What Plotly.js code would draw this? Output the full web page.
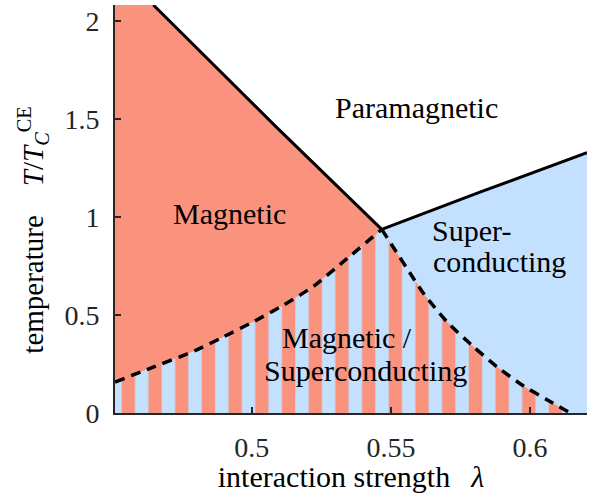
<!DOCTYPE html>
<html><head><meta charset="utf-8">
<script src="https://cdn.plot.ly/plotly-3.0.1.min.js"></script>
<style>html,body{margin:0;padding:0;background:#fff}#chart{width:593px;height:493px}</style>
</head><body><div id="chart"></div>
<script>
// Phase boundaries (interaction strength λ, temperature T/T_C^CE)
const paraMagX = [0.4646, 0.508, 0.5467];
const paraMagY = [2.082, 1.47, 0.937];
const paraScX = [0.5467, 0.582, 0.6205];
const paraScY = [0.937, 1.127, 1.328];
const magCoexX = [0.4508, 0.4634, 0.4796, 0.4886, 0.5006, 0.5113, 0.5222, 0.5329, 0.5467];
const magCoexY = [0.158, 0.228, 0.318, 0.380, 0.466, 0.550, 0.647, 0.772, 0.937];
const scCoexX = [0.5467, 0.5515, 0.5569, 0.5617, 0.5701, 0.5797, 0.5881, 0.5977, 0.6061, 0.6145];
const scCoexY = [0.937, 0.832, 0.713, 0.611, 0.466, 0.338, 0.236, 0.138, 0.068, 0.0];
const xRange = [0.4508, 0.6205];
const yRange = [0, 2.082];
const xTickVals = [0.5, 0.55, 0.6];
const xTickText = ['0.5', '0.55', '0.6'];
const yTickVals = [0, 0.5, 1, 1.5, 2];
const yTickText = ['0', '0.5', '1', '1.5', '2'];
const regionLabels = ['Paramagnetic', 'Magnetic', 'Super-', 'conducting', 'Magnetic /', 'Superconducting'];
const labelX = [0.5591, 0.4918, 0.5641, 0.5645, 0.5341, 0.5407];
const labelY = [1.561, 1.018, 0.933, 0.773, 0.383, 0.219];

const RED = 'rgb(250,147,126)';
const BLUE = 'rgb(196,224,255)';
const tripleX = paraMagX[paraMagX.length - 1];

const magRegion = {
  x: [xRange[0], xRange[0]].concat(paraMagX, [tripleX]),
  y: [0, yRange[1]].concat(paraMagY, [0]),
  mode: 'lines', fill: 'toself', fillcolor: RED, line: {width: 0}, hoverinfo: 'skip'
};
const scRegion = {
  x: paraScX.concat([xRange[1], tripleX]),
  y: paraScY.concat([0, 0]),
  mode: 'lines', fill: 'toself', fillcolor: BLUE, line: {width: 0}, hoverinfo: 'skip'
};
const coexRegion = {
  x: [xRange[0]].concat(magCoexX, scCoexX.slice(1)),
  y: [0].concat(magCoexY, scCoexY.slice(1)),
  mode: 'lines', fill: 'toself', fillcolor: BLUE, line: {width: 0}, hoverinfo: 'skip',
  fillpattern: {shape: '|', size: 26.7, solidity: 0.5, fgcolor: RED, bgcolor: BLUE, fillmode: 'replace'}
};
const solid = {color: '#000', width: 3};
const dashed = {color: '#000', width: 3.5, dash: '10px,7px'};
const traces = [
  magRegion, scRegion, coexRegion,
  {x: paraMagX, y: paraMagY, mode: 'lines', line: solid, hoverinfo: 'skip'},
  {x: paraScX, y: paraScY, mode: 'lines', line: solid, hoverinfo: 'skip'},
  {x: magCoexX, y: magCoexY, mode: 'lines', line: Object.assign({shape: 'spline', smoothing: 0.6}, dashed), hoverinfo: 'skip'},
  {x: scCoexX, y: scCoexY, mode: 'lines', line: Object.assign({shape: 'spline', smoothing: 0.6}, dashed), hoverinfo: 'skip'}
];

const anchors = ['center', 'center', 'left', 'left', 'center', 'center'];
const annotations = regionLabels.map((t, i) => ({
  text: t, x: labelX[i], y: labelY[i], xref: 'x', yref: 'y',
  xanchor: anchors[i], yanchor: 'middle', showarrow: false,
  font: {size: 30, color: '#000'}
}));
annotations.push({
  text: 'temperature\u2002\u2002<i>T</i>/<i>T</i><sub><i>C</i></sub><sup>CE</sup>',
  xref: 'paper', yref: 'paper', x: -0.174, y: 0.449, xanchor: 'center', yanchor: 'middle',
  textangle: -90, showarrow: false, font: {size: 29, color: '#000'}
});

const axisCommon = {
  ticks: 'inside', ticklen: 6, tickwidth: 2, tickcolor: '#262626',
  showline: true, linecolor: '#262626', linewidth: 2,
  showgrid: false, zeroline: false, tickfont: {size: 28, color: '#262626'}
};
const layout = {
  width: 593, height: 493,
  margin: {l: 115, r: 6, t: 5, b: 80},
  paper_bgcolor: '#fff', plot_bgcolor: '#fff', showlegend: false,
  font: {family: '"Liberation Serif", "DejaVu Serif", serif', color: '#000'},
  xaxis: Object.assign({}, axisCommon, {
    range: xRange, tickmode: 'array', tickvals: xTickVals, ticktext: xTickText,
    ticklabelstandoff: 8,
    title: {text: 'interaction strength\u2002\u2009<i>λ</i>\u2002', font: {size: 30, color: '#000'}, standoff: 7}
  }),
  yaxis: Object.assign({}, axisCommon, {
    range: yRange, tickmode: 'array', tickvals: yTickVals, ticktext: yTickText,
    ticklabelstandoff: 8
  }),
  annotations: annotations
};
Plotly.newPlot('chart', traces, layout, {displayModeBar: false, staticPlot: true});
</script></body></html>
